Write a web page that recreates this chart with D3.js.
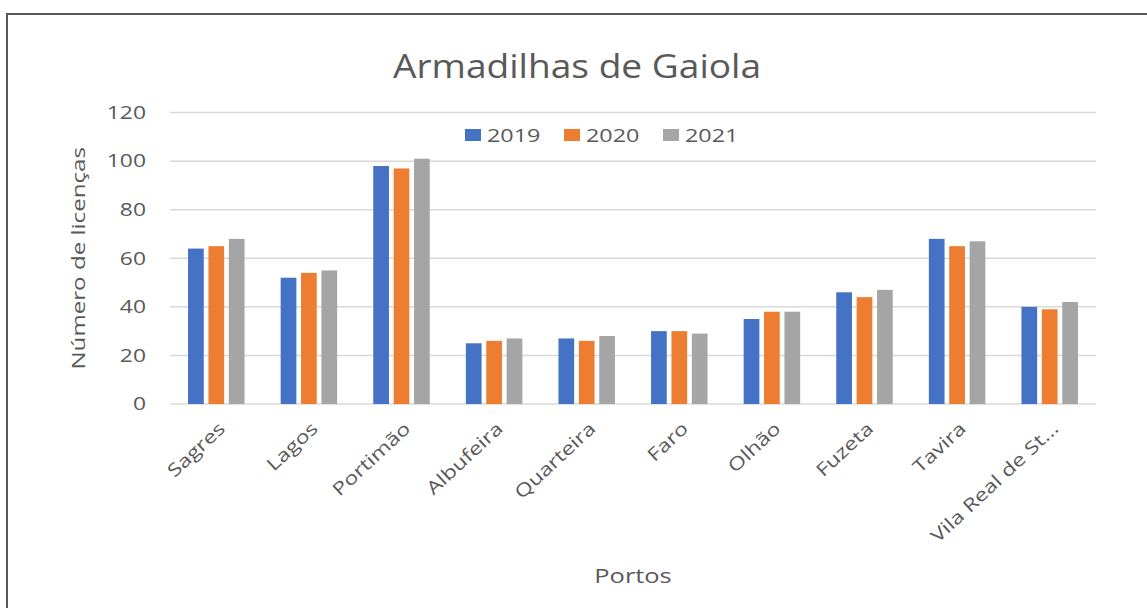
<!DOCTYPE html>
<html>
<head>
<meta charset="utf-8">
<script src="https://cdn.jsdelivr.net/npm/d3@7"></script>
<style>
  html, body { margin: 0; padding: 0; background: #fff; }
  svg { display: block; }
  text { font-family: "Open Sans", "Noto Sans", sans-serif; fill: #595959; }
</style>
</head>
<body>
<svg id="chart" width="1147" height="608"></svg>
<script>
const categories = ["Sagres", "Lagos", "Portimão", "Albufeira", "Quarteira", "Faro", "Olhão", "Fuzeta", "Tavira", "Vila Real de St..."];
const seriesNames = ["2019", "2020", "2021"];
const values2019 = [64, 52, 98, 25, 27, 30, 35, 46, 68, 40];
const values2020 = [65, 54, 97, 26, 26, 30, 38, 44, 65, 39];
const values2021 = [68, 55, 101, 27, 28, 29, 38, 47, 67, 42];
const yTicks = [0, 20, 40, 60, 80, 100, 120];
const colors = ["#4472C4", "#ED7D31", "#A5A5A5"];
const title = "Armadilhas de Gaiola";
const yTitle = "Número de licenças";
const xTitle = "Portos";

const seriesValues = [values2019, values2020, values2021];
const data = categories.map((c, i) => ({
  cat: c,
  vals: seriesNames.map((s, j) => ({ key: s, value: seriesValues[j][i] }))
}));

const svg = d3.select("#chart");
const W = 1147, H = 608;
const plot = { left: 170, right: 1096, top: 112.6, bottom: 404 };
const wide = 1.27; // glyphs in the reference are wider than Open Sans

// outer frame (top and left edges visible)
svg.append("path")
  .attr("d", `M7,${H} L7,14 L${W},14`)
  .attr("fill", "none")
  .attr("stroke", "#595959")
  .attr("stroke-width", 2);

const x0 = d3.scaleBand().domain(categories).range([plot.left, plot.right]).padding(0);
const x1 = d3.scaleBand().domain(seriesNames).range([0, x0.bandwidth() * 0.61]).paddingInner(0.23);
const y = d3.scaleLinear().domain([0, 120]).range([plot.bottom, plot.top]);
const color = d3.scaleOrdinal().domain(seriesNames).range(colors);

// gridlines
svg.append("g")
  .selectAll("line")
  .data(yTicks)
  .join("line")
  .attr("x1", plot.left)
  .attr("x2", plot.right)
  .attr("y1", d => y(d))
  .attr("y2", d => y(d))
  .attr("stroke", "#d9d9d9")
  .attr("stroke-width", 1.5);

// y axis labels
const yAxis = d3.axisLeft(y).tickValues(yTicks).tickSize(0).tickPadding(0);
const gy = svg.append("g").attr("transform", `translate(${plot.left - 24},0)`).call(yAxis);
gy.select(".domain").remove();
gy.selectAll("text")
  .style("font-family", '"Open Sans", sans-serif')
  .style("font-size", "18px")
  .attr("fill", "#595959")
  .attr("transform", `scale(${wide},1)`);

// bars
const groupOffset = (x0.bandwidth() - x0.bandwidth() * 0.61) / 2;
svg.append("g")
  .selectAll("g")
  .data(data)
  .join("g")
  .attr("transform", d => `translate(${x0(d.cat) + groupOffset},0)`)
  .selectAll("rect")
  .data(d => d.vals)
  .join("rect")
  .attr("x", d => x1(d.key))
  .attr("width", x1.bandwidth())
  .attr("y", d => y(d.value))
  .attr("height", d => y(0) - y(d.value))
  .attr("fill", d => color(d.key));

// x axis labels (rotated)
const xAxis = d3.axisBottom(x0).tickSize(0).tickPadding(0);
const gx = svg.append("g").attr("transform", `translate(0,${plot.bottom})`).call(xAxis);
gx.select(".domain").remove();
gx.selectAll("text")
  .style("font-family", '"Open Sans", sans-serif')
  .style("font-size", "18px")
  .attr("fill", "#595959")
  .attr("text-anchor", "end")
  .attr("dy", "0")
  .attr("y", 0)
  .attr("transform", `translate(10,26) rotate(-43) scale(${wide},1)`);

// title
svg.append("text")
  .attr("transform", `translate(577,78) scale(1.16,1)`)
  .attr("text-anchor", "middle")
  .style("font-size", "32px")
  .text(title);

// y title
svg.append("text")
  .attr("transform", `translate(85,${(plot.top + plot.bottom) / 2}) rotate(-90) scale(${wide},1)`)
  .attr("text-anchor", "middle")
  .style("font-size", "19px")
  .text(yTitle);

// x title
svg.append("text")
  .attr("transform", `translate(${(plot.left + plot.right) / 2},583) scale(${wide},1)`)
  .attr("text-anchor", "middle")
  .style("font-size", "20px")
  .text(xTitle);

// legend
const legend = svg.append("g").attr("transform", "translate(465,135)");
const legendStep = 99;
const li = legend.selectAll("g")
  .data(seriesNames)
  .join("g")
  .attr("transform", (d, i) => `translate(${i * legendStep},0)`);
li.append("rect")
  .attr("x", 0).attr("y", -6)
  .attr("width", 16).attr("height", 12)
  .attr("fill", d => color(d));
li.append("text")
  .attr("transform", `translate(22,0) scale(1.23,1)`)
  .attr("dy", "0.35em")
  .style("font-size", "19px")
  .text(d => d);
</script>
</body>
</html>
